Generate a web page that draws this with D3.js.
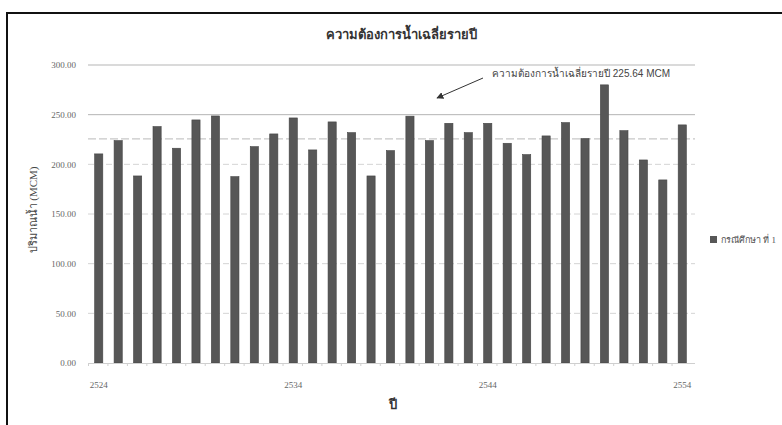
<!DOCTYPE html>
<html>
<head>
<meta charset="utf-8">
<script src="https://cdn.jsdelivr.net/npm/d3@7"></script>
<style>
html,body{margin:0;padding:0;background:#fff;overflow:hidden;}
svg{display:block;}
</style>
</head>
<body>
<svg id="chart" width="782" height="425"></svg>
<script>
const years = d3.range(2524, 2555).map(String);
const demand = [210.5, 223.9, 188.3, 238.0, 216.2, 244.7, 248.7, 187.6, 217.8, 230.6,
                246.7, 214.5, 242.7, 231.9, 188.3, 213.8, 248.5, 223.9, 241.3, 231.9,
                241.3, 221.2, 209.8, 228.6, 242.0, 225.9, 280.0, 233.9, 204.4, 184.3, 239.7];
const averageValue = 225.64;
const yTicks = [0, 50, 100, 150, 200, 250, 300];
const xTickLabels = ["2524", "2534", "2544", "2554"];
const titleText = "ความต้องการน้ำเฉลี่ยรายปี";
const yLabel = "ปริมาณน้ำ (MCM)";
const xLabel = "ปี";
const annotationText = "ความต้องการน้ำเฉลี่ยรายปี 225.64 MCM";
const legendText = "กรณีศึกษา ที่ 1";

const svg = d3.select("#chart");
const serif = "'Liberation Serif','DejaVu Serif',serif";

// outer frame
svg.append("path").attr("d","M7,425 L7,13 L782,13")
  .attr("fill","none").attr("stroke","#111").attr("stroke-width",2);

const x = d3.scaleBand().domain(years).range([89, 692]).paddingInner(0.58).paddingOuter(0.29);
const y = d3.scaleLinear().domain([0, 300]).range([363, 65]);

// gridlines
svg.append("g").selectAll("line").data(yTicks.filter(d=>d>0)).join("line")
  .attr("x1",88).attr("x2",695)
  .attr("y1",d=>y(d)).attr("y2",d=>y(d))
  .attr("stroke",d=>d>=250?"#b5b5b5":"#d4d4d4")
  .attr("stroke-width",1)
  .attr("stroke-dasharray",d=>d>=250?null:"6,3");

// average line
svg.append("line").attr("x1",88).attr("x2",695)
  .attr("y1",y(averageValue)).attr("y2",y(averageValue))
  .attr("stroke","#c8c8c8").attr("stroke-width",1.2).attr("stroke-dasharray","8,3");

// y axis labels
const yAxis = d3.axisLeft(y).tickValues(yTicks).tickFormat(d3.format(".2f")).tickSize(0).tickPadding(10);
const gy = svg.append("g").attr("transform","translate(86,0)").call(yAxis);
gy.select(".domain").remove();
gy.selectAll("text").attr("font-family",serif).attr("font-size",9).attr("fill","#666");

// bars
svg.append("g").selectAll("rect").data(demand).join("rect")
  .attr("x",(d,i)=>x(years[i]))
  .attr("width",x.bandwidth())
  .attr("y",d=>y(d))
  .attr("height",d=>y(0)-y(d))
  .attr("fill","#575757")
  .attr("stroke","#444").attr("stroke-width",0.6);

// x axis
const xAxis = d3.axisBottom(x).tickValues(xTickLabels).tickSize(0).tickPadding(19);
const gx = svg.append("g").attr("transform",`translate(0,${y(0)})`).call(xAxis);
gx.select(".domain").attr("stroke","#cfcfcf").attr("d","M88,0.5H695");
gx.selectAll("text").attr("font-family",serif).attr("font-size",9).attr("fill","#666");
// small tick marks
svg.append("g").selectAll("line").data(years).join("line")
  .attr("x1",d=>x(d)-x.step()*0.29-0.5).attr("x2",d=>x(d)-x.step()*0.29-0.5)
  .attr("y1",y(0)).attr("y2",y(0)+3).attr("stroke","#cfcfcf");

// title
svg.append("text").attr("x",401).attr("y",39).attr("text-anchor","middle")
  .attr("font-family",serif).attr("font-size",13).attr("font-weight","bold").attr("fill","#333")
  .text(titleText);

// y label
svg.append("text").attr("transform","translate(37,210) rotate(-90)").attr("text-anchor","middle")
  .attr("font-family",serif).attr("font-size",11).attr("fill","#444").text(yLabel);

// x label
svg.append("text").attr("x",393).attr("y",409).attr("text-anchor","middle")
  .attr("font-family",serif).attr("font-size",13).attr("font-weight","bold").attr("fill","#333").text(xLabel);

// annotation
svg.append("defs").append("marker").attr("id","ah").attr("viewBox","0 0 10 10")
  .attr("refX",9).attr("refY",5).attr("markerWidth",7).attr("markerHeight",7).attr("orient","auto")
  .append("path").attr("d","M0,0 L10,5 L0,10 z").attr("fill","#333");
svg.append("line").attr("x1",483).attr("y1",78).attr("x2",437).attr("y2",98)
  .attr("stroke","#333").attr("stroke-width",1).attr("marker-end","url(#ah)");
svg.append("text").attr("x",492).attr("y",77)
  .attr("font-family","'Liberation Sans',Arial,sans-serif").attr("font-size",10).attr("fill","#444")
  .text(annotationText);

// legend
svg.append("rect").attr("x",710).attr("y",236).attr("width",7).attr("height",7).attr("fill","#575757");
svg.append("text").attr("x",721).attr("y",243)
  .attr("font-family",serif).attr("font-size",9).attr("fill","#555").text(legendText);
</script>
</body>
</html>
